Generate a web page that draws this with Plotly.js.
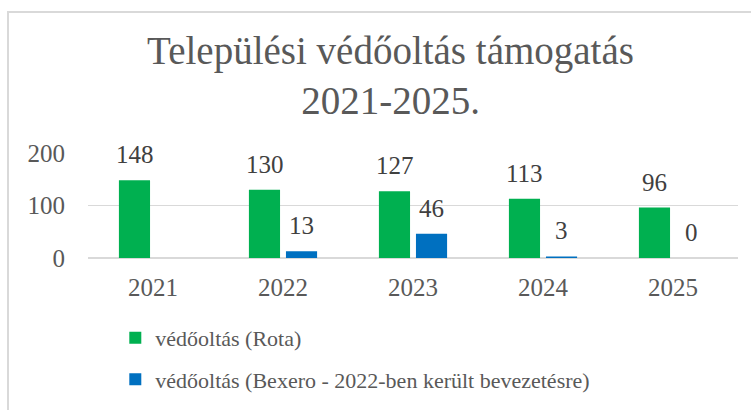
<!DOCTYPE html>
<html>
<head>
<meta charset="utf-8">
<script src="https://cdn.plot.ly/plotly-3.0.1.min.js"></script>
<style>
html,body{margin:0;padding:0;background:#fff;overflow:hidden;}
#wrap{position:relative;width:751px;height:410px;}
#chart{position:absolute;left:0;top:0;width:751px;height:410px;}
#frame{position:absolute;left:7px;top:11px;width:800px;height:450px;border:2px solid #d9d9d9;pointer-events:none;}
</style>
</head>
<body>
<div id="wrap"><div id="chart"></div><div id="frame"></div></div>
<script>
const categories = ['2021', '2022', '2023', '2024', '2025'];
const rotaName = 'védőoltás (Rota)';
const rotaValues = [148, 130, 127, 113, 96];
const bexeroName = 'védőoltás (Bexero - 2022-ben került bevezetésre)';
const bexeroValues = [null, 13, 46, 3, 0];
const yTicks = [0, 100, 200];
const titleText = 'Települési védőoltás támogatás<br>2021-2025.';

const FONT = '"Liberation Serif", "DejaVu Serif", serif';

const traces = [
  {type: 'bar', name: rotaName, x: categories, y: rotaValues,
   marker: {color: '#00b050'}, legendgroup: 'a', hoverinfo: 'none'},
  {type: 'bar', name: bexeroName, x: categories, y: bexeroValues,
   marker: {color: '#0070c0'}, legendgroup: 'b', hoverinfo: 'none'}
];

const annotations = [];
[[rotaValues, -18.5], [bexeroValues, 18.5]].forEach(([vals, dx]) => {
  vals.forEach((v, i) => {
    if (v === null) return;
    annotations.push({x: i, y: v, xref: 'x', yref: 'y', text: String(v),
      showarrow: false, xanchor: 'center', yanchor: 'bottom', xshift: dx, yshift: 10,
      font: {family: FONT, size: 25, color: '#404040'}});
  });
});

const layout = {
  width: 751, height: 410,
  margin: {l: 88, r: 13, t: 153, b: 152, autoexpand: false},
  paper_bgcolor: 'rgba(0,0,0,0)', plot_bgcolor: 'rgba(0,0,0,0)',
  title: {text: titleText, font: {family: FONT, size: 39, color: '#595959'},
          xref: 'container', x: 0.52, xanchor: 'center', yref: 'container', y: 0.845, yanchor: 'top'},
  barmode: 'group', bargap: 0.43, bargroupgap: 0.16,
  xaxis: {type: 'category', categoryarray: categories, showgrid: false, showline: false, zeroline: false,
          tickfont: {family: FONT, size: 25, color: '#595959'}, ticklabelstandoff: 12},
  yaxis: {range: [0, 200], tickvals: yTicks, showgrid: true, gridcolor: '#d9d9d9', gridwidth: 1.5,
          zeroline: true, zerolinecolor: '#d9d9d9', zerolinewidth: 1.5, showline: false,
          tickfont: {family: FONT, size: 25, color: '#595959'}, ticklabelstandoff: 22},
  showlegend: true,
  legend: {orientation: 'v', x: 0.042, xanchor: 'left', yref: 'container', y: 0.227, yanchor: 'top',
           traceorder: 'grouped', tracegroupgap: 10,
           font: {family: FONT, size: 22, color: '#595959'}},
  annotations: annotations
};

Plotly.newPlot('chart', traces, layout, {staticPlot: true, displayModeBar: false});
</script>
</body>
</html>
